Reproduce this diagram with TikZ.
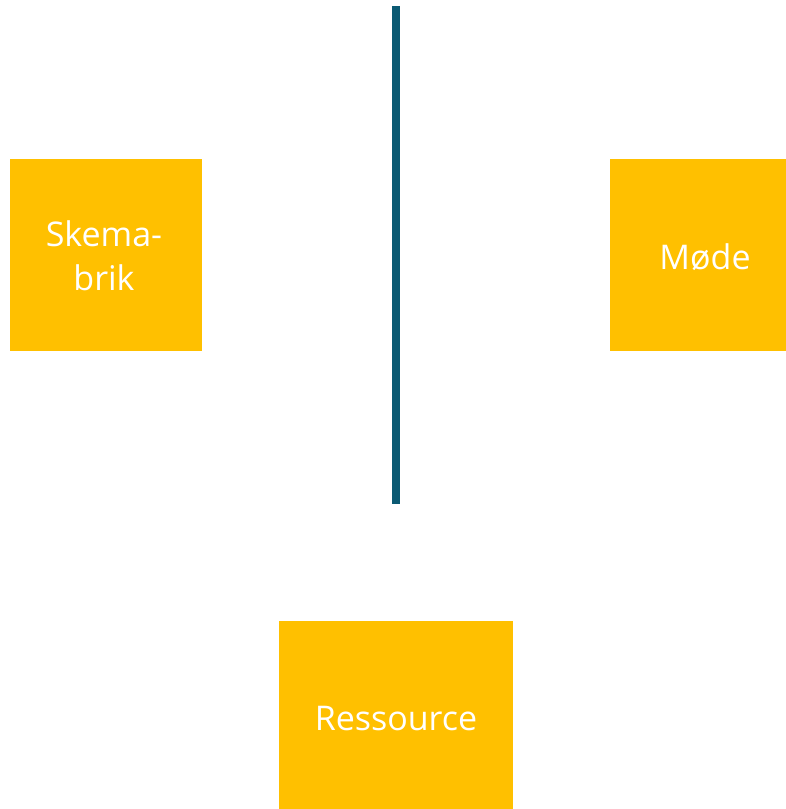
\documentclass[tikz,border=0pt]{standalone}
\usepackage{fontspec}
\setmainfont{Open Sans}
\definecolor{boxyellow}{HTML}{FFC000}
\definecolor{lineteal}{HTML}{0B5A73}
\begin{document}
\begin{tikzpicture}[x=1pt,y=1pt,
  card/.style={fill=boxyellow,draw=none,inner sep=0pt},
  label/.style={text=white,font=\fontsize{34}{44}\selectfont,align=center}]
\useasboundingbox (0,0) rectangle (786,-809);
\node[card,minimum width=192pt,minimum height=192pt] (skema) at (106,-255) {};
\node[label] (skemat) at (104,-256) {Skema-\\brik};
\node[card,minimum width=176pt,minimum height=192pt] (mode) at (698,-255) {};
\node[label] (modet) at (705,-257) {Møde};
\node[card,minimum width=234pt,minimum height=188pt] (res) at (396,-715) {};
\node[label] (rest) at (396,-719) {Ressource};
\coordinate (ltop) at (396,-6);
\coordinate (lbot) at (396,-504);
\draw[lineteal,line width=8pt] (ltop) -- (lbot);
\end{tikzpicture}
\end{document}
